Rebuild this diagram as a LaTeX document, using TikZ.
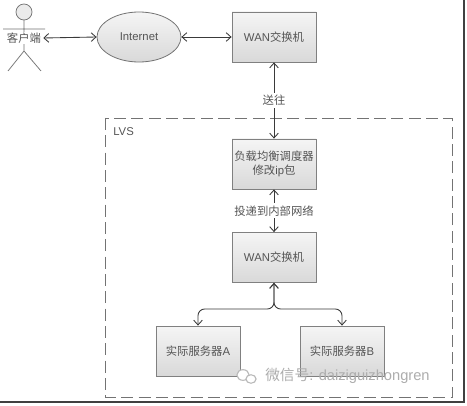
\documentclass[tikz,border=0pt]{standalone}
\usepackage{fontspec}
\setmainfont{Liberation Sans}
\newfontfamily\cjk{Noto Sans CJK SC}
\usetikzlibrary{arrows.meta,shapes.geometric,calc}
\definecolor{ink}{HTML}{555555}
\definecolor{edge}{HTML}{3A3A3A}
\tikzset{
  x=0.75pt,y=-0.75pt,
  every node/.style={font=\fontsize{8.5pt}{11pt}\selectfont,text=ink,align=center},
  boxnode/.style={draw=black!50,line width=0.6pt,minimum width=63pt,minimum height=37.5pt,inner sep=0pt,top color=white!96!black,bottom color=black!15,shading angle=0},
  cloudnode/.style={ellipse,draw=black!55,line width=0.6pt,minimum width=63pt,minimum height=37.5pt,inner sep=0pt,top color=white!96!black,bottom color=black!15},
  link/.style={draw=edge,line width=0.65pt,{Straight Barb[length=3.6pt,width=6.5pt]}-{Straight Barb[length=3.6pt,width=6.5pt]}},
  tag/.style={fill=white,inner sep=1.5pt},
  actorline/.style={draw=black!55,line width=0.55pt},
  group/.style={draw=black!55,line width=0.6pt,dash pattern=on 9pt off 4pt},
}
\begin{document}
\begin{tikzpicture}
\useasboundingbox (0,0) rectangle (467,406);
\fill[white] (0,0) rectangle (467,406);
% screenshot shadow edge
\draw[black!75,line width=1.1pt] (464,0) -- (464,402) -- (0,402);
% LVS group
\draw[group] (105.5,118) rectangle (452,397);
\node[anchor=west,inner sep=0pt] (lvs) at (113,132) {LVS};
% actor
\draw[actorline,fill=black!8] (24,12) circle (6pt);
\draw[actorline] (24,20) -- (24,51) -- (8,71) (24,51) -- (41,71) (3,29) -- (45,29);
\node[fill=white,inner sep=0.5pt] (client) at (24,38) {\cjk 客户端};
% nodes
\node[cloudnode] (net) at (139,37) {Internet};
\node[boxnode] (wan1) at (274,37) {WAN{\cjk 交换机}};
\node[boxnode] (lb) at (274,164) {{\cjk 负载均衡调度器}\\[-1pt]{\cjk 修改}ip{\cjk 包}};
\node[boxnode] (wan2) at (274,257.5) {WAN{\cjk 交换机}};
\node[boxnode] (a) at (198,351) {{\cjk 实际服务器}A};
\node[boxnode] (b) at (342,351) {{\cjk 实际服务器}B};
% connectors
\draw[link] (client.east) ++(1pt,0) -- (net.west);
\draw[link] (net.east) -- (wan1.west);
\draw[link] (wan1.south) -- node[tag,pos=0.5]{\cjk 送往} (lb.north);
\draw[link] (lb.south) -- node[tag,pos=0.5]{\cjk 投递到内部网络} (wan2.north);
\coordinate (split) at (274,309);
\draw[link,rounded corners=5pt] (wan2.south) -- (split) -| (a.north);
\draw[link,rounded corners=5pt] (wan2.south) -- (split) -| (b.north);
% watermark
\draw[black!28,line width=0.8pt,fill=white] (243,375) ellipse (4.6pt and 4pt);
\draw[black!28,line width=0.8pt,fill=white] (251,379) ellipse (3.8pt and 3.2pt);
\node[anchor=west,inner sep=0pt,text=black!32,font=\fontsize{11pt}{12pt}\selectfont] (mark) at (265,376) {{\cjk 微信号}: daiziguizhongren};
\end{tikzpicture}
\end{document}
